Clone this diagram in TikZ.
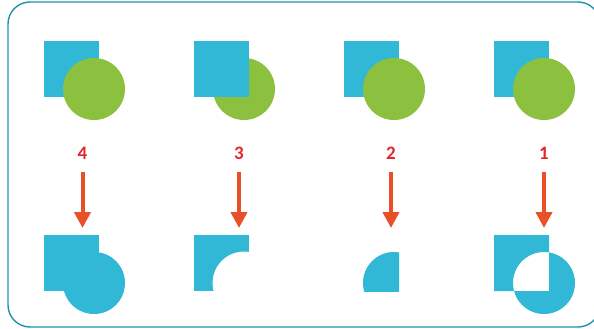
\documentclass[tikz,border=0pt]{standalone}
\usepackage{fontspec}
\newfontfamily\numfont{Carlito}
\usetikzlibrary{arrows.meta}
\definecolor{frameC}{HTML}{1E93AE}
\definecolor{sqC}{HTML}{30B8D6}
\definecolor{ciC}{HTML}{8CC13F}
\definecolor{arC}{HTML}{E9502A}
\definecolor{nuC}{HTML}{E3262B}
\tikzset{
  numlabel/.style={text=nuC, font=\numfont\bfseries\fontsize{19}{19}\selectfont, inner sep=0pt},
  downarrow/.style={draw=arC, line width=4pt, -{Triangle[width=16pt,length=16pt]}},
  framebox/.style={draw=frameC, line width=1.4pt, rounded corners=22pt}
}
\begin{document}
\begin{tikzpicture}[x=1pt,y=-1pt]
\useasboundingbox (0,0) rectangle (594,329);
\clip (0,0) rectangle (594,329);
\fill[white] (0,0) rectangle (594,329);
\draw[framebox] (8,2) rectangle (600,327);

% top row
% group 1
\fill[sqC] (44,41) rectangle (99,97);
\fill[ciC] (94,89) circle[radius=31];
% group 2 (square on top)
\fill[ciC] (244,89) circle[radius=31];
\fill[sqC] (194,41) rectangle (249,97);
% group 3
\fill[sqC] (344,41) rectangle (399,97);
\fill[ciC] (394,89) circle[radius=31];
% group 4
\fill[sqC] (494,41) rectangle (549,97);
\fill[ciC] (544,89) circle[radius=31];

% labels
\node[numlabel] (n4) at (82.5,153) {4};
\node[numlabel] (n3) at (239,153) {3};
\node[numlabel] (n2) at (391,153) {2};
\node[numlabel] (n1) at (544,153) {1};

% arrows
\coordinate (a4s) at (82.5,172); \coordinate (a4e) at (82.5,228);
\coordinate (a3s) at (239,172);  \coordinate (a3e) at (239,228);
\coordinate (a2s) at (391,172);  \coordinate (a2e) at (391,228);
\coordinate (a1s) at (544,172);  \coordinate (a1e) at (544,228);
\draw[downarrow] (a4s) -- (a4e);
\draw[downarrow] (a3s) -- (a3e);
\draw[downarrow] (a2s) -- (a2e);
\draw[downarrow] (a1s) -- (a1e);

% bottom row
% group 1: union
\fill[sqC] (44,235) rectangle (99,291);
\fill[sqC] (94,283) circle[radius=31];
% group 2: square minus circle
\fill[sqC] (194,235) rectangle (249,291);
\fill[white] (244,283) circle[radius=31.4];
% group 3: intersection
\begin{scope}
\clip (344,235) rectangle (399,291);
\fill[sqC] (394,283) circle[radius=31];
\end{scope}
% group 4: symmetric difference
\fill[sqC, even odd rule] (494,235) rectangle (549,291) (544,283) circle[radius=31];
\end{tikzpicture}
\end{document}
